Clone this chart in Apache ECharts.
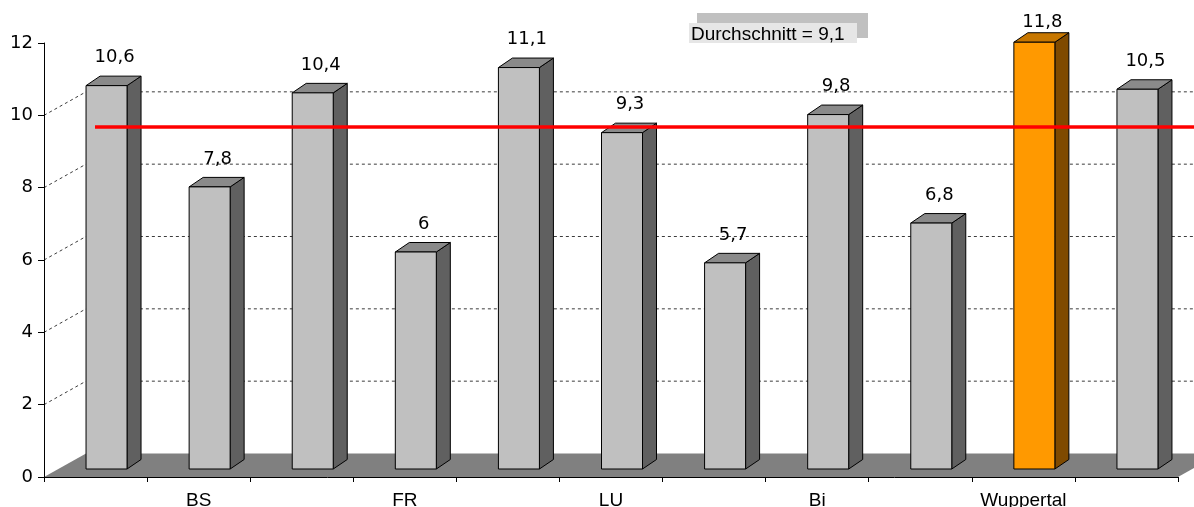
<!DOCTYPE html>
<html>
<head>
<meta charset="utf-8">
<script src="https://cdn.jsdelivr.net/npm/echarts@6/dist/echarts.min.js"></script>
<style>
  html, body { margin: 0; padding: 0; background: #ffffff; }
  #chart { width: 1194px; height: 507px; }
</style>
</head>
<body>
<div id="chart"></div>
<script>
// Category names (only every other one is printed on the axis)
const categories = ['', 'BS', '', 'FR', '', 'LU', '', 'Bi', '', 'Wuppertal', ''];
// Column values
const values = [10.6, 7.8, 10.4, 6, 11.1, 9.3, 5.7, 9.8, 6.8, 11.8, 10.5];
// Highlighted column
const highlighted = 'Wuppertal';
// Average shown as the red reference line
const average = 9.1;
const averageLabel = 'Durchschnitt';
// Value axis range and the dashed wall lines
const yMin = 0, yMax = 12, yStep = 2;
const wallLines = [2, 4, 6, 8, 10];

// 3D look: offset of the back wall, of the column front face, and column depth
const WALL_DX = 42, WALL_DY = -23.5;
const FACE_DX = 11, FACE_DY = -8;
const DEPTH_DX = 14, DEPTH_DY = -9.5;
const BAR_W = 41;
const LINE_DY = -21, LINE_X0 = 51;

const fmt = v => String(v).replace('.', ',');
const numFont = '18px "DejaVu Sans"';

const chart = echarts.init(document.getElementById('chart'), null, { renderer: 'canvas' });

function renderBackdrop(params, api) {
  if (params.dataIndex !== 0) return null;
  const cs = params.coordSys;
  const x0 = cs.x, x1 = cs.x + cs.width, yb = cs.y + cs.height;
  const W = api.getWidth();
  const children = [{
    type: 'polygon',
    shape: { points: [[x0, yb], [x1, yb], [x1 + WALL_DX, yb + WALL_DY], [x0 + WALL_DX, yb + WALL_DY]] },
    style: { fill: '#808080' }
  }];
  wallLines.forEach(v => {
    const y = api.coord([0, v])[1];
    children.push({
      type: 'polyline',
      shape: { points: [[x0, y], [x0 + WALL_DX, y + WALL_DY], [W, y + WALL_DY]] },
      style: { stroke: '#3c3c3c', lineWidth: 1, lineDash: [3, 3], fill: null }
    });
  });
  return { type: 'group', children };
}

function renderColumn(params, api) {
  const i = api.value(0), v = api.value(1);
  const base = api.coord([i, 0]);
  const top = api.coord([i, v]);
  const cx = base[0] + FACE_DX;
  const xl = cx - BAR_W / 2, xr = cx + BAR_W / 2;
  const yb = base[1] + FACE_DY, yt = top[1] + FACE_DY;
  const hi = categories[i] === highlighted;
  const front = hi ? '#ff9900' : '#c0c0c0';
  const side = hi ? '#7f4a00' : '#606060';
  const lid = hi ? '#c77700' : '#8a8a8a';
  const edge = { stroke: '#000000', lineWidth: 1 };
  return {
    type: 'group',
    children: [
      { type: 'polygon', shape: { points: [[xr, yt], [xr + DEPTH_DX, yt + DEPTH_DY], [xr + DEPTH_DX, yb + DEPTH_DY], [xr, yb]] },
        style: Object.assign({ fill: side }, edge) },
      { type: 'polygon', shape: { points: [[xl, yt], [xl + DEPTH_DX, yt + DEPTH_DY], [xr + DEPTH_DX, yt + DEPTH_DY], [xr, yt]] },
        style: Object.assign({ fill: lid }, edge) },
      { type: 'rect', shape: { x: xl, y: yt, width: BAR_W, height: yb - yt },
        style: Object.assign({ fill: front }, edge) },
      { type: 'text', z2: 10,
        style: { text: fmt(v), x: cx + 8, y: Math.max(yt - 28, 22), align: 'center', verticalAlign: 'middle',
                 font: numFont, fill: '#000000' } }
    ]
  };
}

function renderAverage(params, api) {
  const cs = params.coordSys;
  const y = api.coord([0, api.value(1)])[1] + LINE_DY;
  return {
    type: 'line',
    shape: { x1: cs.x + LINE_X0, y1: y, x2: api.getWidth(), y2: y },
    style: { stroke: '#ff0000', lineWidth: 3.5 }
  };
}

chart.setOption({
  animation: false,
  backgroundColor: '#ffffff',
  grid: { left: 44, right: 16, top: 43, bottom: 30, containLabel: false, outerBoundsMode: 'none' },
  xAxis: {
    type: 'category',
    data: categories,
    boundaryGap: true,
    axisLine: { lineStyle: { color: '#000000', width: 1 } },
    axisTick: { show: true, length: 5, lineStyle: { color: '#000000' } },
    axisLabel: { interval: 0, margin: 14, color: '#000000', fontFamily: 'Liberation Sans', fontSize: 19 },
    splitLine: { show: false }
  },
  yAxis: {
    type: 'value',
    min: yMin, max: yMax, interval: yStep,
    axisLine: { show: true, lineStyle: { color: '#000000', width: 1 } },
    axisTick: { show: true, length: 6, lineStyle: { color: '#000000' } },
    axisLabel: { margin: 11, color: '#000000', fontFamily: 'DejaVu Sans', fontSize: 18 },
    splitLine: { show: false }
  },
  graphic: [
    { type: 'rect', z: 20, shape: { x: 697, y: 13, width: 171, height: 25 }, style: { fill: '#c0c0c0' } },
    { type: 'rect', z: 21, shape: { x: 689, y: 23, width: 168, height: 20 }, style: { fill: '#e6e6e6' } },
    { type: 'text', z: 22, style: { text: averageLabel + ' = ' + fmt(average), x: 691, y: 35,
        verticalAlign: 'middle', align: 'left', font: '19px "Liberation Sans"', fill: '#000000' } }
  ],
  series: [
    { type: 'custom', z: -1, clip: false, renderItem: renderBackdrop, data: [[0, 0]], silent: true },
    { type: 'custom', z: 3, clip: false, renderItem: renderColumn,
      data: values.map((v, i) => [i, v]), encode: { x: 0, y: 1 } },
    { type: 'custom', z: 5, clip: false, renderItem: renderAverage, data: [[0, average]], encode: { x: 0, y: 1 } }
  ]
});
</script>
</body>
</html>
